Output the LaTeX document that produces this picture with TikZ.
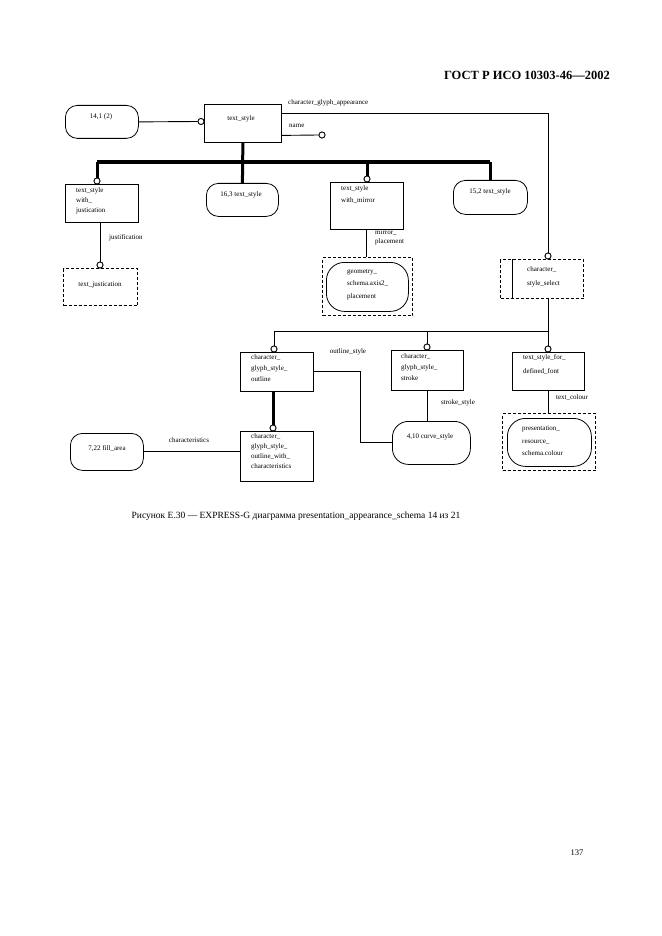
\documentclass[tikz,border=0pt]{standalone}
\usepackage{fontspec}
\setmainfont{Liberation Serif}
\begin{document}
\begin{tikzpicture}[x=1pt,y=-1pt,
  box/.style={draw, line width=0.8pt, inner sep=0pt, anchor=north west},
  rbox/.style={box, rounded corners=12pt},
  dbox/.style={box, line width=1.1pt, dash pattern=on 3pt off 2pt},
  circ/.style={circle, draw, fill=white, inner sep=0pt, minimum size=6pt, line width=0.8pt},
  lbl/.style={font=\fontsize{7}{8}\selectfont, inner sep=0pt},
  txt/.style={inner sep=0pt, align=left, anchor=north west},
  rel/.style={line width=0.9pt},
  sub/.style={line width=3pt},
  busline/.style={line width=4pt}]
\useasboundingbox (0,0) rectangle (661,936);
\fill[white] (0,0) rectangle (661,936);

% header
\node[font=\bfseries\fontsize{12.5}{14}\selectfont, anchor=east, inner sep=0pt] (hdr) at (610,75) {ГОСТ Р ИСО 10303-46—2002};

% boxes
\node[rbox, minimum width=73pt, minimum height=33pt] (a141) at (65,105) {};
\node[box, minimum width=77pt, minimum height=38pt] (ts) at (204,104) {};
\node[box, minimum width=73pt, minimum height=38pt] (tsj) at (65,184) {};
\node[rbox, minimum width=72pt, minimum height=33pt] (t163) at (206,183) {};
\node[box, minimum width=73pt, minimum height=47pt] (tsm) at (330,182) {};
\node[rbox, minimum width=74pt, minimum height=34pt] (t152) at (453,180) {};
\node[dbox, minimum width=74pt, minimum height=37pt] (tj) at (63,268) {};
\node[dbox, minimum width=90pt, minimum height=58pt] (geo) at (322,257) {};
\node[rbox, rounded corners=18pt, minimum width=82pt, minimum height=49pt] (geoi) at (326,262) {};
\node[dbox, minimum width=83pt, minimum height=39pt] (csel) at (500,259) {};
\draw[line width=0.8pt] (512,259) -- (512,298);
\node[box, minimum width=73pt, minimum height=39pt] (cgo) at (240,352) {};
\node[box, minimum width=73pt, minimum height=50pt] (cgowc) at (240,431) {};
\node[rbox, minimum width=73pt, minimum height=37pt] (fa) at (70,433) {};
\node[box, minimum width=72pt, minimum height=40pt] (cgs) at (391,350) {};
\node[rbox, rounded corners=16pt, minimum width=78pt, minimum height=43pt] (cs) at (392,421) {};
\node[box, minimum width=72pt, minimum height=38pt] (tsdf) at (512,352) {};
\node[dbox, minimum width=93pt, minimum height=57pt] (pc) at (502,413) {};
\node[rbox, rounded corners=18pt, minimum width=84pt, minimum height=48pt] (pci) at (507,418) {};

% coordinates
\coordinate (bus) at (0,162);
\coordinate (hy) at (0,331);
\coordinate (kx) at (360,0);

% circle nodes (positions)
\node[circ] (c1) at (201,121.5) {};
\node[circ] (cname) at (322,135) {};
\node[circ] (ctsj) at (97,181) {};
\node[circ] (ctsm) at (367,179) {};
\node[circ] (cj) at (100,265) {};
\node[circ] (ccs) at (548,256) {};
\node[circ] (ccgo) at (274,349) {};
\node[circ] (ccgs) at (427,347) {};
\node[circ] (ctsdf) at (548,349) {};
\node[circ] (ccw) at (273,428) {};

% connectors
\draw[rel] (a141.east) -- (c1.west);
\draw[rel] ([yshift=10pt]ts.east) -| (ccs.north);
\draw[rel] ([yshift=-12pt]ts.east) -- (cname.west);
\draw[busline] (ctsj.north |- bus) -- (t152.north |- bus);
\draw[sub] (ts.south) -- (t163.north);
\draw[sub] (ctsj.north |- bus) -- (ctsj.north);
\draw[sub] (ctsm.north |- bus) -- (ctsm.north);
\draw[sub] (t152.north |- bus) -- (t152.north);
\draw[rel] (cj |- tsj.south) -- (cj.north);
\draw[rel] (tsm.south) -- (tsm.south |- geo.north);
\draw[rel] (ccs |- csel.south) -- (ctsdf.north);
\draw[rel] (ccgo.north) |- (ctsdf |- hy);
\draw[rel] (ccgs.north) -- (ccgs |- hy);
\draw[rel] (cgo.east) -- (cgo.east -| kx) |- (cs.west);
\draw[sub] (ccw |- cgo.south) -- (ccw.north);
\draw[rel] (fa.east) -- (fa.east -| cgowc.west);
\draw[rel] (cgs.south) -- (cgs.south |- cs.north);
\draw[rel] (tsdf.south) -- (tsdf.south |- pc.north);

% redraw circles on top
\foreach \c in {c1,cname,ctsj,ctsm,cj,ccs,ccgo,ccgs,ctsdf,ccw}
  \draw[line width=0.8pt, fill=white] (\c) circle (3pt);

% texts in boxes
\node[lbl] (l141) at (101,117) {14,1 (2)};
\node[lbl] (lts) at (241,119) {text\_style};
\node[lbl] (l163) at (241,195) {16,3 text\_style};
\node[lbl] (l152) at (490,192) {15,2 text\_style};
\node[lbl] (ltj) at (100,285) {text\_justication};
\node[lbl] (lcs) at (430,437) {4,10 curve\_style};
\node[lbl] (lfa) at (107,449) {7,22 fill\_area};
\node[txt, font=\fontsize{7}{10}\selectfont] (ltsj) at (76,187) {text\_style\\with\_\\justication};
\node[txt, font=\fontsize{7}{12.5}\selectfont] (ltsm) at (341,185) {text\_style\\with\_mirror};
\node[txt, font=\fontsize{7}{12.5}\selectfont] (lgeo) at (347,269) {geometry\_\\schema.axis2\_\\placement};
\node[txt, font=\fontsize{7}{14}\selectfont] (lcsel) at (527,266) {character\_\\style\_select};
\node[txt, font=\fontsize{7}{11}\selectfont] (lcgo) at (251,354) {character\_\\glyph\_style\_\\outline};
\node[txt, font=\fontsize{7}{10}\selectfont] (lcgowc) at (251,433.5) {character\_\\glyph\_style\_\\outline\_with\_\\characteristics};
\node[txt, font=\fontsize{7}{11}\selectfont] (lcgs) at (401,353) {character\_\\glyph\_style\_\\stroke};
\node[txt, font=\fontsize{7}{14}\selectfont] (ltsdf) at (523,354.5) {text\_style\_for\_\\defined\_font};
\node[txt, font=\fontsize{7}{12.5}\selectfont] (lpc) at (522,426) {presentation\_\\resource\_\\schema.colour};

% relation labels
\node[lbl, anchor=west] (lcga) at (288,103) {character\_glyph\_appearance};
\node[lbl, anchor=west] (lname) at (289,126) {name};
\node[lbl, anchor=west] (ljust) at (109,238) {justification};
\node[txt, font=\fontsize{7}{9}\selectfont] (lmir) at (375,230) {mirror\_\\placement};
\node[lbl] (lout) at (348,352) {outline\_style};
\node[lbl] (lchar) at (189,440) {characteristics};
\node[lbl] (lstr) at (458,403) {stroke\_style};
\node[lbl] (lcol) at (572,398) {text\_colour};

% caption and page number
\node[font=\fontsize{9.5}{11}\selectfont, inner sep=0pt] (cap) at (296,516) {Рисунок Е.30 — EXPRESS-G диаграмма presentation\_appearance\_schema 14 из 21};
\node[font=\fontsize{8.5}{10}\selectfont, inner sep=0pt] (pg) at (577,853) {137};
\end{tikzpicture}
\end{document}
